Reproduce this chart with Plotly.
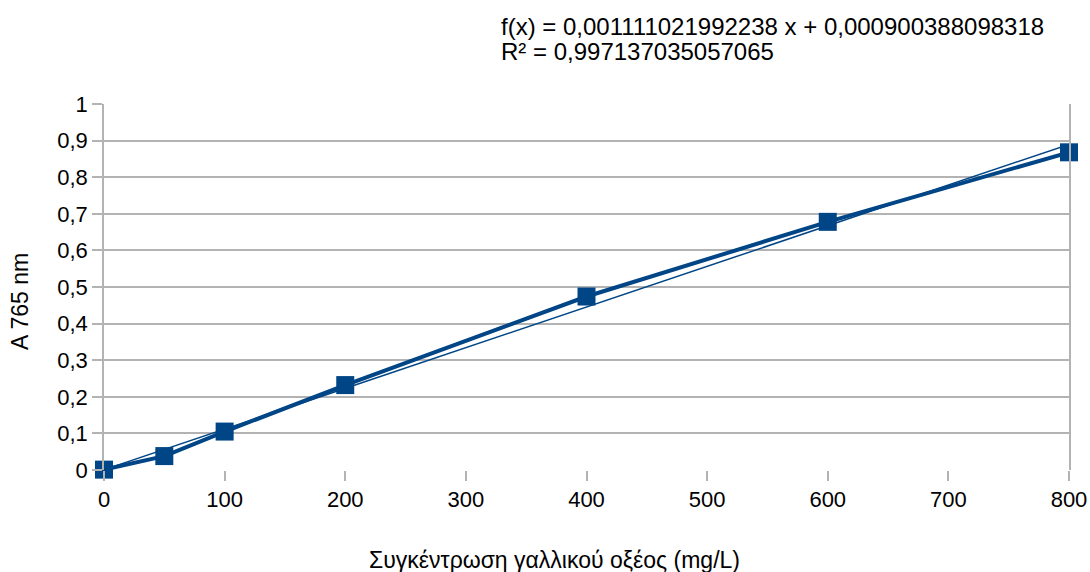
import plotly.graph_objects as go

# Gallic acid calibration: concentration (mg/L) vs absorbance at 765 nm
concentration = [0, 50, 100, 200, 400, 600, 800]
absorbance = [0.001, 0.038, 0.105, 0.232, 0.474, 0.678, 0.868]

# Linear regression reported for the calibration
slope = 0.001111021992238
intercept = 0.000900388098318
r_squared = 0.997137035057065
fit_x = [0, 800]
fit_y = [slope * v + intercept for v in fit_x]

x_ticks = [0, 100, 200, 300, 400, 500, 600, 700, 800]
y_ticks = [0, 0.1, 0.2, 0.3, 0.4, 0.5, 0.6, 0.7, 0.8, 0.9, 1]

line_color = "#004586"
grid_color = "#b3b3b3"
text_color = "#000000"
font_family = "Liberation Sans, Arial, sans-serif"

fig = go.Figure()

fig.add_trace(go.Scatter(
    x=fit_x, y=fit_y, mode="lines",
    line=dict(color=line_color, width=1.5),
    hoverinfo="skip", showlegend=False, cliponaxis=False,
))

fig.add_trace(go.Scatter(
    x=concentration, y=absorbance, mode="lines+markers",
    line=dict(color=line_color, width=4),
    marker=dict(symbol="square", size=18, color=line_color),
    showlegend=False, cliponaxis=False,
))

def fmt(v):
    return f"{v:.15f}".rstrip("0").replace(".", ",")

fig.add_annotation(
    xref="paper", yref="paper", x=0.4095, y=1.212,
    xanchor="left", yanchor="middle", showarrow=False,
    text=f"f(x) = {fmt(slope)} x + {fmt(intercept)}",
    font=dict(size=24, color=text_color, family=font_family),
)
fig.add_annotation(
    xref="paper", yref="paper", x=0.4095, y=1.144,
    xanchor="left", yanchor="middle", showarrow=False,
    text=f"R² = {fmt(r_squared)}",
    font=dict(size=24, color=text_color, family=font_family),
)

# Axis titles
fig.add_annotation(
    xref="paper", yref="paper", x=0.467, y=-0.246,
    xanchor="center", yanchor="middle", showarrow=False,
    text="Συγκέντρωση γαλλικού οξέος (mg/L)",
    font=dict(size=23, color=text_color, family=font_family),
)
fig.add_annotation(
    xref="paper", yref="paper", x=-0.087, y=0.459,
    xanchor="center", yanchor="middle", showarrow=False, textangle=-90,
    text="A 765 nm",
    font=dict(size=23, color=text_color, family=font_family),
)

fig.update_layout(
    width=1090, height=572,
    margin=dict(l=104, r=21, t=104, b=102, autoexpand=False),
    paper_bgcolor="white", plot_bgcolor="white",
    separators=", ",
    font=dict(family=font_family, color=text_color, size=22),
)

fig.update_xaxes(
    range=[0, 800], tickvals=x_ticks, automargin=False,
    showgrid=False, zeroline=False,
    showline=False,
    ticks="outside", ticklen=10, tickcolor=grid_color, tickwidth=1.5,
    tickfont=dict(size=22),
)

fig.update_yaxes(
    range=[0, 1], tickvals=y_ticks, automargin=False,
    showgrid=True, gridcolor=grid_color, gridwidth=1.5,
    zeroline=False,
    showline=True, linecolor=grid_color, linewidth=1.5, mirror=True,
    ticks="outside", ticklen=10, tickcolor=grid_color, tickwidth=1.5,
    tickfont=dict(size=22),
)

fig.write_html("out.html")
